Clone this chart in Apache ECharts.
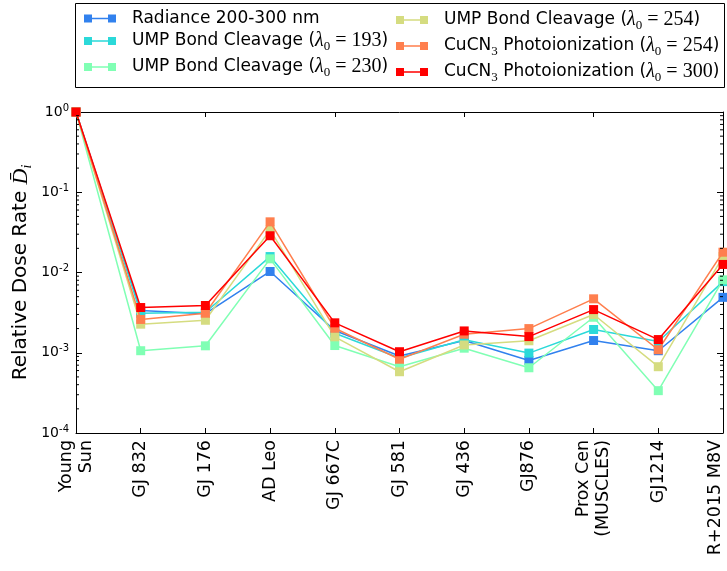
<!DOCTYPE html>
<html>
<head>
<meta charset="utf-8">
<script src="https://cdn.jsdelivr.net/npm/echarts@6/dist/echarts.min.js"></script>
<style>
html,body{margin:0;padding:0;background:#fff;}
#chart{width:727px;height:571px;}
</style>
</head>
<body>
<div id="chart"></div>
<script>
// ---- data ----
const categories = ['Young\nSun','GJ 832','GJ 176','AD Leo','GJ 667C','GJ 581','GJ 436','GJ876','Prox Cen\n(MUSCLES)','GJ1214','R+2015 M8V'];
const radiance   = [1, 3.36e-3, 3.07e-3, 0.0103, 1.89e-3, 9.1e-4, 1.42e-3, 8.0e-4, 1.42e-3, 1.06e-3, 4.9e-3];
const ump193     = [1, 3.10e-3, 3.20e-3, 0.0158, 1.75e-3, 8.6e-4, 1.45e-3, 9.9e-4, 1.95e-3, 1.38e-3, 7.7e-3];
const ump230     = [1, 1.06e-3, 1.22e-3, 0.0148, 1.23e-3, 6.7e-4, 1.14e-3, 6.5e-4, 2.77e-3, 3.37e-4, 8.1e-3];
const ump254     = [1, 2.27e-3, 2.54e-3, 0.0340, 1.58e-3, 5.8e-4, 1.25e-3, 1.41e-3, 3.00e-3, 6.7e-4, 0.0158];
const cucn254    = [1, 2.60e-3, 3.11e-3, 0.0428, 2.02e-3, 8.3e-4, 1.70e-3, 2.00e-3, 4.70e-3, 1.09e-3, 0.0179];
const cucn300    = [1, 3.66e-3, 3.88e-3, 0.0287, 2.36e-3, 1.03e-3, 1.87e-3, 1.59e-3, 3.45e-3, 1.46e-3, 0.0126];
const seriesNames = ['Radiance 200-300 nm','UMP Bond Cleavage (λ0=193)','UMP Bond Cleavage (λ0=230)','UMP Bond Cleavage (λ0=254)','CuCN3 Photoionization (λ0=254)','CuCN3 Photoionization (λ0=300)'];
const seriesData = [radiance, ump193, ump230, ump254, cucn254, cucn300];
const colors = ['#3181ee','#2bd9d9','#80ffb4','#d5dc80','#ff7f4e','#ff0000'];
const legendRich = [
  '{g| }{t|Radiance 200-300 nm}',
  '{g| }{t|UMP Bond Cleavage (}{m|λ}{s|0}{n| = 193}{t|)}',
  '{g| }{t|UMP Bond Cleavage (}{m|λ}{s|0}{n| = 230}{t|)}',
  '{g| }{t|UMP Bond Cleavage (}{m|λ}{s|0}{n| = 254}{t|)}',
  '{g| }{t|CuCN}{s|3}{t| Photoionization (}{m|λ}{s|0}{n| = 254}{t|)}',
  '{g| }{t|CuCN}{s|3}{t| Photoionization (}{m|λ}{s|0}{n| = 300}{t|)}'
];
const yMin = 1e-4, yMax = 1;
// minor tick positions of the log axis (2..9 x 10^n)
const minorTicks = [];
for (let e = -4; e < 0; e++) for (let k = 2; k <= 9; k++) minorTicks.push([0, k * Math.pow(10, e)]);

const FONT = 'DejaVu Sans';
const SERIF = 'Liberation Serif';
const chart = echarts.init(document.getElementById('chart'), null, {renderer:'canvas'});

const richLegend = {
  g: {width: 11},
  t: {fontFamily: FONT, fontSize: 17, lineHeight: 24, color: '#000'},
  m: {fontFamily: SERIF, fontStyle: 'italic', fontSize: 20, lineHeight: 24, color: '#000'},
  s: {fontFamily: SERIF, fontSize: 13, lineHeight: 13, verticalAlign: 'bottom', color: '#000'},
  n: {fontFamily: SERIF, fontSize: 20, lineHeight: 24, color: '#000'}
};
const legendIcon = 'path://M0,0H8V8H0Z M24,0H32V8H24Z M8,3.25H24V4.75H8Z';
function legendCfg(idx, left) {
  return {
    orient: 'vertical', left: left, top: 10, itemWidth: 32, itemHeight: 8, itemGap: 4,
    icon: legendIcon, padding: 0, selectedMode: false,
    data: idx.map(i => seriesNames[i]),
    formatter: name => legendRich[seriesNames.indexOf(name)],
    textStyle: {rich: richLegend}
  };
}

const series = seriesData.map((d, i) => ({
  name: seriesNames[i], type: 'line', data: d, symbol: 'rect', symbolSize: 9,
  color: colors[i], lineStyle: {width: 1.5, color: colors[i]}, itemStyle: {color: colors[i]},
  emphasis: {disabled: true}, clip: true, z: 2 + i
}));
series.push({
  type: 'custom', data: minorTicks, silent: true, z: 20,
  encode: {x: 0, y: 1},
  renderItem: function (params, api) {
    const v = api.value(1);
    const pL = api.coord([0, v]);
    const pR = api.coord([categories.length - 1, v]);
    return {type: 'group', children: [
      {type: 'line', shape: {x1: pL[0], y1: pL[1], x2: pL[0] + 3, y2: pL[1]}, style: {stroke: '#000', lineWidth: 1}},
      {type: 'line', shape: {x1: pR[0] - 3, y1: pR[1], x2: pR[0], y2: pR[1]}, style: {stroke: '#000', lineWidth: 1}}
    ]};
  }
});

const axisLine = {show: true, lineStyle: {color: '#000', width: 1}};
const option = {
  animation: false,
  backgroundColor: '#fff',
  grid: {left: 76, top: 112, right: 4, bottom: 138, containLabel: false, outerBoundsMode: 'none'},
  legend: [legendCfg([0,1,2], 84), legendCfg([3,4,5], 396)],
  graphic: [{type: 'rect', shape: {x: 75.5, y: 3.5, width: 649, height: 84}, style: {fill: 'none', stroke: '#000', lineWidth: 1}, z: 100, silent: true}],
  xAxis: [
    {type: 'category', data: categories, boundaryGap: false, position: 'bottom',
     axisLine: axisLine, axisTick: {show: true, inside: true, length: 5, lineStyle: {color: '#000'}},
     axisLabel: {interval: 0, rotate: 90, margin: 7, fontFamily: FONT, fontSize: 17.5, lineHeight: 20, color: '#000',
       formatter: (v, i) => i === categories.length - 1 ? '{p|' + v + '}' : v,
       rich: {p: {fontFamily: FONT, fontSize: 17.5, lineHeight: 20, color: '#000', padding: [0, 0, 16, 0]}}},
     splitLine: {show: false}},
    {type: 'category', data: categories, boundaryGap: false, position: 'top',
     axisLine: axisLine, axisTick: {show: true, inside: true, length: 5, lineStyle: {color: '#000'}},
     axisLabel: {show: false}, splitLine: {show: false}}
  ],
  yAxis: [
    {type: 'log', logBase: 10, min: yMin, max: yMax, interval: 1, position: 'left',
     axisLine: axisLine, axisTick: {show: true, inside: true, length: 6, lineStyle: {color: '#000'}},
     splitLine: {show: false},
     name: '{t|Relative Dose Rate }{m|D̄}{s|i}', nameLocation: 'middle', nameGap: 42, nameRotate: 90,
     nameMoveOverlap: false,
     nameTextStyle: {rich: {
       t: {fontFamily: FONT, fontSize: 20, lineHeight: 26, color: '#000'},
       m: {fontFamily: SERIF, fontStyle: 'italic', fontSize: 22, lineHeight: 26, color: '#000'},
       s: {fontFamily: SERIF, fontStyle: 'italic', fontSize: 14, lineHeight: 14, verticalAlign: 'bottom', color: '#000'}
     }},
     axisLabel: {margin: 7, formatter: v => '{b|10}{s|' + Math.round(Math.log10(v)) + '}',
       rich: {b: {fontFamily: FONT, fontSize: 14, lineHeight: 18, color: '#000'},
              s: {fontFamily: FONT, fontSize: 10, lineHeight: 10, verticalAlign: 'top', color: '#000'}}}},
    {type: 'log', logBase: 10, min: yMin, max: yMax, interval: 1, position: 'right',
     axisLine: axisLine, axisTick: {show: true, inside: true, length: 6, lineStyle: {color: '#000'}},
     axisLabel: {show: false}, splitLine: {show: false}}
  ],
  series: series
};
chart.setOption(option);
</script>
</body>
</html>
